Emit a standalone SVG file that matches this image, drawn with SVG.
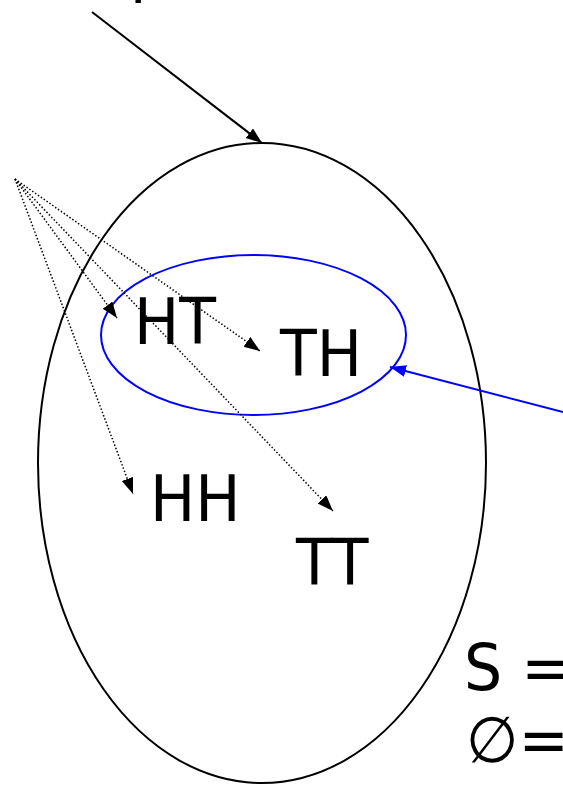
<svg xmlns="http://www.w3.org/2000/svg" width="563" height="787" viewBox="0 0 563 787">
<style>
.lbl{font-family:"DejaVu Sans",sans-serif;font-size:64px;fill:#000}
.dot{stroke:#000;stroke-width:1.5;stroke-dasharray:1.5,2;fill:none}
</style>
<defs>
<marker id="ah" markerUnits="userSpaceOnUse" markerWidth="18" markerHeight="14" refX="16" refY="6" orient="auto"><path d="M0,0 L16,6 L0,12 Z" fill="#000"/></marker>
<marker id="ahb" markerUnits="userSpaceOnUse" markerWidth="18" markerHeight="14" refX="16" refY="6" orient="auto"><path d="M0,0 L16,6 L0,12 Z" fill="#00f"/></marker>
</defs>
<rect width="563" height="787" fill="#fff"/>
<g id="S-set"><ellipse cx="262" cy="463" rx="224" ry="320" fill="none" stroke="#000" stroke-width="2"/></g>
<g id="event"><ellipse cx="253.5" cy="335" rx="152.5" ry="80" fill="none" stroke="#00f" stroke-width="2"/></g>
<g id="HT"><text class="lbl" transform="translate(134,344) scale(0.94,1)">HT</text></g>
<g id="TH"><text class="lbl" transform="translate(280,376) scale(0.94,1)">TH</text></g>
<g id="HH"><text class="lbl" transform="translate(150,521) scale(0.94,1)">HH</text></g>
<g id="TT"><text class="lbl" transform="translate(296,585) scale(0.94,1)">TT</text></g>
<g id="top-label"><text class="lbl" transform="translate(130,-10) scale(0.94,1)">p</text></g>
<g id="S-eq"><text class="lbl" transform="translate(464,690) scale(0.94,1)">S =</text></g>
<g id="empty-eq"><text class="lbl" transform="translate(466,762) scale(0.94,1)">∅=</text></g>
<g id="connectors">
<line x1="92" y1="12" x2="262" y2="143" stroke="#000" stroke-width="2" marker-end="url(#ah)"/>
<line x1="563" y1="412" x2="390" y2="367" stroke="#00f" stroke-width="2" marker-end="url(#ahb)"/>
<line class="dot" x1="15" y1="179" x2="117" y2="318" marker-end="url(#ah)"/>
<line class="dot" x1="15" y1="179" x2="260" y2="351" marker-end="url(#ah)"/>
<line class="dot" x1="15" y1="179" x2="133" y2="494" marker-end="url(#ah)"/>
<line class="dot" x1="15" y1="179" x2="333" y2="511" marker-end="url(#ah)"/>
</g>
</svg>
